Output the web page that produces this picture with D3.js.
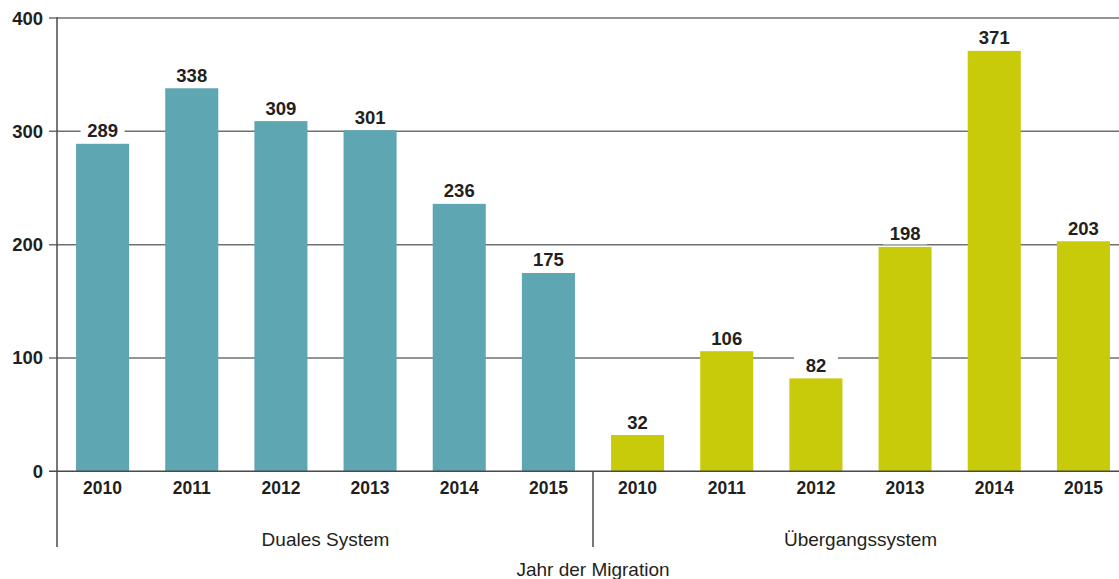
<!DOCTYPE html>
<html>
<head>
<meta charset="utf-8">
<script src="https://cdn.jsdelivr.net/npm/d3@7/dist/d3.min.js"></script>
<style>
  html, body { margin: 0; padding: 0; background: #fff; }
  svg { display: block; }
  text { font-family: "Liberation Sans", Arial, Helvetica, sans-serif; fill: #231f20; }
</style>
</head>
<body>
<script>
// Ausbildungsbeteiligung nach Jahr der Migration
const groups = ["Duales System", "Übergangssystem"];
const years = ["2010", "2011", "2012", "2013", "2014", "2015"];
const dualesSystem = [289, 338, 309, 301, 236, 175];
const uebergangssystem = [32, 106, 82, 198, 371, 203];
const yTicks = [0, 100, 200, 300, 400];
const groupColors = ["#5fa6b3", "#c8cb0a"];
const axisTitle = "Jahr der Migration";

const W = 1119, H = 579;
const rows = [];
[dualesSystem, uebergangssystem].forEach((vals, gi) => {
  vals.forEach((v, i) => rows.push({ group: groups[gi], gi, year: years[i], value: v, key: groups[gi] + "|" + years[i] }));
});

const svg = d3.select("body").append("svg").attr("width", W).attr("height", H);

const x = d3.scaleBand()
  .domain(rows.map(d => d.key))
  .range([58, 1128])
  .paddingInner(0.405)
  .paddingOuter(0.2025);

const y = d3.scaleLinear().domain([0, 400]).range([471.3, 18]);

const groupX = d3.scaleBand().domain(groups).range([58, 1128]);

// horizontal grid with short ticks left of the axis
svg.append("g").selectAll("line")
  .data(yTicks.filter(t => t > 0))
  .join("line")
  .attr("x1", 49).attr("x2", W)
  .attr("y1", d => y(d)).attr("y2", d => y(d))
  .attr("stroke", "#6e7072").attr("stroke-width", 1.5);

// y tick labels
svg.append("g").selectAll("text")
  .data(yTicks)
  .join("text")
  .attr("x", 43).attr("y", d => y(d) + 6.5)
  .attr("text-anchor", "end")
  .attr("font-size", 18.5).attr("font-weight", "bold")
  .text(d => d);

// bars
svg.append("g").selectAll("rect")
  .data(rows)
  .join("rect")
  .attr("x", d => x(d.key))
  .attr("width", x.bandwidth())
  .attr("y", d => y(d.value))
  .attr("height", d => y(0) - y(d.value))
  .attr("fill", d => groupColors[d.gi]);

// baseline
svg.append("line")
  .attr("x1", 49).attr("x2", W)
  .attr("y1", y(0)).attr("y2", y(0))
  .attr("stroke", "#4a4a4a").attr("stroke-width", 1.5);

// value labels on a white backing so grid lines break around them
const lab = svg.append("g").selectAll("g")
  .data(rows)
  .join("g")
  .attr("transform", d => `translate(${x(d.key) + x.bandwidth() / 2},${y(d.value) - 6.5})`);
lab.append("rect")
  .attr("x", -22).attr("width", 44)
  .attr("y", -17).attr("height", 21)
  .attr("fill", "#fff");
lab.append("text")
  .attr("text-anchor", "middle")
  .attr("font-size", 18.5).attr("font-weight", "bold")
  .text(d => d.value);

// year labels
svg.append("g").selectAll("text")
  .data(rows)
  .join("text")
  .attr("x", d => x(d.key) + x.bandwidth() / 2)
  .attr("y", 493.5)
  .attr("text-anchor", "middle")
  .attr("font-size", 17.5).attr("font-weight", "bold")
  .text(d => d.year);

// vertical axis and group separator
svg.append("line")
  .attr("x1", 57).attr("x2", 57)
  .attr("y1", y(400) - 0.75).attr("y2", 547)
  .attr("stroke", "#4a4a4a").attr("stroke-width", 1.5);
svg.append("line")
  .attr("x1", groupX(groups[1])).attr("x2", groupX(groups[1]))
  .attr("y1", y(0)).attr("y2", 547)
  .attr("stroke", "#4a4a4a").attr("stroke-width", 1.5);

// group labels
svg.append("g").selectAll("text")
  .data(groups)
  .join("text")
  .attr("x", d => groupX(d) + groupX.bandwidth() / 2)
  .attr("y", 546)
  .attr("text-anchor", "middle")
  .attr("font-size", 19)
  .attr("fill", "#333")
  .text(d => d);

// axis title
svg.append("text")
  .attr("x", (58 + 1128) / 2)
  .attr("y", 576)
  .attr("text-anchor", "middle")
  .attr("font-size", 19)
  .attr("fill", "#333")
  .text(axisTitle);
</script>
</body>
</html>
